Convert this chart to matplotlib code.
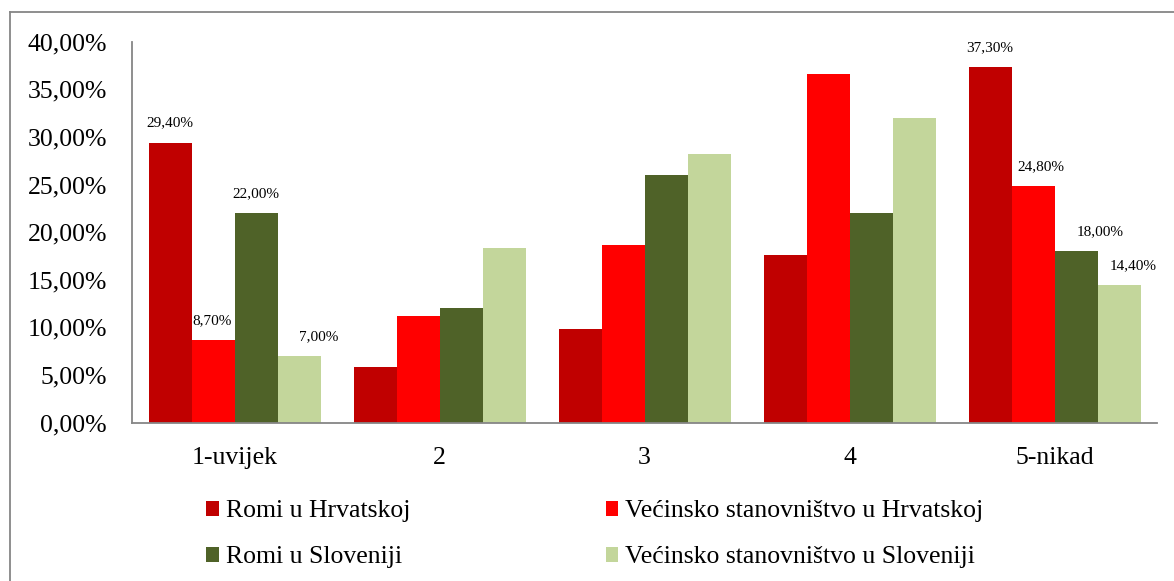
import matplotlib
matplotlib.use("Agg")
import matplotlib.pyplot as plt
from matplotlib.lines import Line2D
from matplotlib.ticker import FuncFormatter, MultipleLocator
import numpy as np

categories = ["1-uvijek", "2", "3", "4", "5-nikad"]
series_names = ["Romi u Hrvatskoj", "Većinsko stanovništvo u Hrvatskoj",
                "Romi u Sloveniji", "Većinsko stanovništvo u Sloveniji"]
romi_hr = [29.4, 5.8, 9.8, 17.6, 37.3]
vecina_hr = [8.7, 11.2, 18.6, 36.6, 24.8]
romi_si = [22.0, 12.0, 26.0, 22.0, 18.0]
vecina_si = [7.0, 18.3, 28.2, 32.0, 14.4]
labelled_groups = [0, 4]
colors = ["#C00000", "#FF0000", "#4F6228", "#C3D69B"]

# horizontal nudges (points) of the data labels, per labelled group and series
label_nudge = {0: [0, -0.7, 0, 14.4], 4: [0, 5.4, 17.3, 10.4]}

plt.rcParams['font.family'] = ['Liberation Serif', 'DejaVu Serif']

W, H = 1174, 581
fig = plt.figure(figsize=(W / 100, H / 100), dpi=100)
ax = fig.add_axes([132 / W, 1 - 422.5 / H, (1157 - 132) / W, (422.5 - 41.7) / H])

data = [romi_hr, vecina_hr, romi_si, vecina_si]
x = np.arange(len(categories))
bw = 43 / 205
handles = []
for i, (vals, name, c) in enumerate(zip(data, series_names, colors)):
    b = ax.bar(x + (i - 1.5) * bw, vals, width=bw, color=c, label=name,
               edgecolor='none', linewidth=0)
    handles.append(b)
    for g in labelled_groups:
        v = vals[g]
        ax.annotate(f"{v:.2f}%".replace('.', ','), (x[g] + (i - 1.5) * bw, v),
                    xytext=(label_nudge[g][i], 14.0), textcoords='offset points',
                    ha='center', va='center', fontsize=11, color='#000000')

ax.set_xlim(-0.5, len(categories) - 0.5)
ax.set_ylim(0, 40)
ax.yaxis.set_major_locator(MultipleLocator(5))
ax.yaxis.set_major_formatter(FuncFormatter(lambda v, p: f"{v:.2f}%".replace('.', ',')))
ax.set_xticks(x)
ax.set_xticklabels(categories)
ax.tick_params(axis='y', length=0, pad=18, labelsize=18.5, colors='#000000')
ax.tick_params(axis='x', length=0, pad=17.5, labelsize=18.5, colors='#000000')
for s in ['top', 'right']:
    ax.spines[s].set_visible(False)
for s in ['left', 'bottom']:
    ax.spines[s].set_color('#868686')
    ax.spines[s].set_linewidth(1.3)

order = [0, 2, 1, 3]
leg = fig.legend([handles[k] for k in order], [series_names[k] for k in order],
                 ncol=2, loc='upper left', bbox_to_anchor=(206 / W, 1 - 500.5 / H),
                 frameon=False, fontsize=18.5, borderpad=0, borderaxespad=0,
                 handlelength=0.5, handleheight=0.5, handletextpad=0.27,
                 columnspacing=7.6, labelspacing=0.93)

# outer chart frame (top and left visible)
fig.add_artist(Line2D([10 / W, 1.0], [1 - 12.3 / H, 1 - 12.3 / H], transform=fig.transFigure,
                      color='#868686', linewidth=1.3))
fig.add_artist(Line2D([9.7 / W, 9.7 / W], [0, 1 - 12.3 / H], transform=fig.transFigure,
                      color='#868686', linewidth=1.3))

fig.savefig("out.png", dpi=100)
